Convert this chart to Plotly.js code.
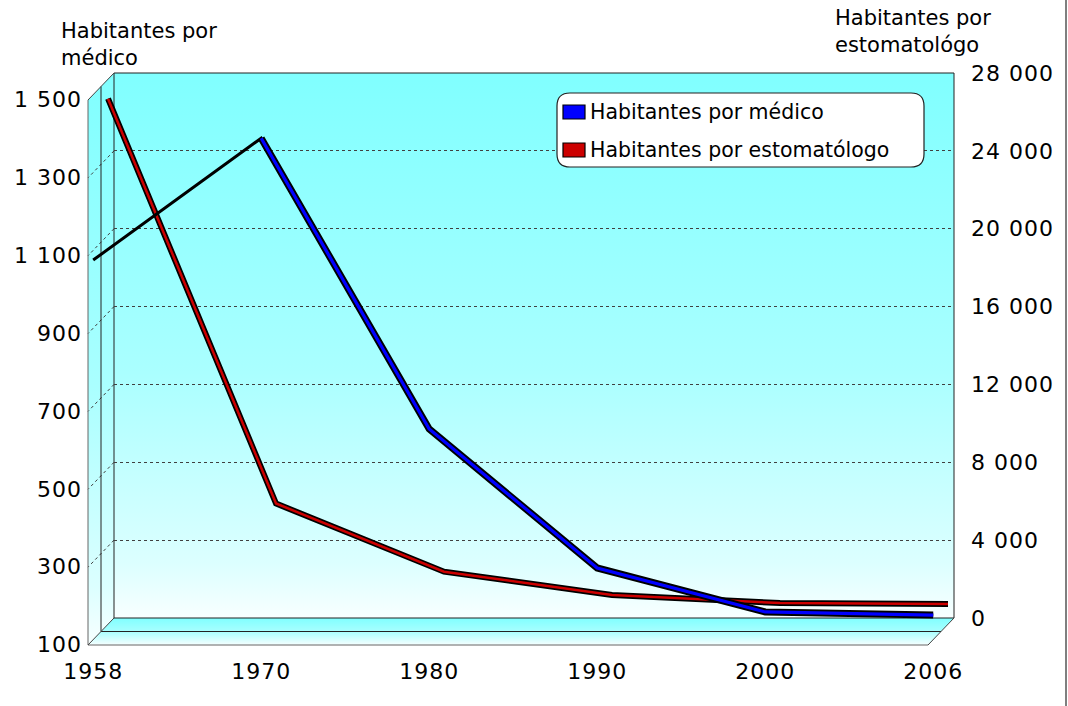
<!DOCTYPE html>
<html>
<head>
<meta charset="utf-8">
<script src="https://cdn.plot.ly/plotly-3.0.1.min.js"></script>
<style>
html,body{margin:0;padding:0;background:#fff;}
#chart{width:1068px;height:706px;}
.xtick text,.x3tick text,.ytick text,.y3tick text{letter-spacing:1px;}
</style>
</head>
<body>
<div id="chart"></div>
<script>
// ---------------- data ----------------
const years = ['1958', '1970', '1980', '1990', '2000', '2006'];
const habPorMedico = [1075, 1388, 641, 284, 171, 163];
const habPorEstomatologo = [27000, 6200, 2700, 1500, 1090, 1040];
const leftTicks = [100, 300, 500, 700, 900, 1100, 1300, 1500];
const rightTicks = [0, 4000, 8000, 12000, 16000, 20000, 24000, 28000];
const seriesNames = ['Habitantes por médico', 'Habitantes por estomatólogo'];
const leftTitle = 'Habitantes por<br>médico';
const rightTitle = 'Habitantes por<br>estomatológo';

// ---------------- geometry helpers (pixels -> paper) ----------------
const W = 1068, H = 706;
const fx = p => p / W;
const fy = p => 1 - p / H;
const BACK = {x0: 114, x1: 954, yTop: 73, yBot: 618};
const DX = -26, DY = 27;           // offset from back plane to front plane
function plane(t) {                 // t: 0 = front, 1 = back
  const s = 1 - t;
  return {x0: BACK.x0 + DX * s, x1: BACK.x1 + DX * s, yTop: BACK.yTop + DY * s, yBot: BACK.yBot + DY * s};
}
const FRONT = plane(0), MID = plane(0.5);
const P_MED = plane(0.2), P_EST = plane(0.77);
const PAD = 0.1;
function xDomain(p) { const u = (p.x1 - p.x0) / 5; return [fx(p.x0 - u * PAD), fx(p.x1 + u * PAD)]; }
function yDomain(p) { return [fy(p.yBot), fy(p.yTop)]; }

const FONT = 'DejaVu Sans, Verdana, sans-serif';

// ---------------- wall gradients (decoration image) ----------------
const poly = pts => pts.map(p => p[0] + ',' + p[1]).join(' ');
const svg = `<svg xmlns='http://www.w3.org/2000/svg' width='${W}' height='${H}' viewBox='0 0 ${W} ${H}' preserveAspectRatio='none'>
<defs>
<linearGradient id='g' x1='0' y1='0' x2='0' y2='1'>
<stop offset='0' stop-color='#80ffff'/><stop offset='0.55' stop-color='#aaffff'/><stop offset='0.9' stop-color='#dcffff'/><stop offset='1' stop-color='#f8ffff'/>
</linearGradient>
<linearGradient id='f' x1='0' y1='0' x2='0' y2='1'>
<stop offset='0' stop-color='#80ffff'/><stop offset='0.5' stop-color='#a8ffff'/><stop offset='1' stop-color='#f6ffff'/>
</linearGradient>
</defs>
<polygon points='${poly([[BACK.x0, BACK.yTop], [BACK.x1, BACK.yTop], [BACK.x1, BACK.yBot], [BACK.x0, BACK.yBot]])}' fill='url(#g)'/>
<polygon points='${poly([[FRONT.x0, FRONT.yTop], [BACK.x0, BACK.yTop], [BACK.x0, BACK.yBot], [FRONT.x0, FRONT.yBot]])}' fill='url(#g)'/>
<polygon points='${poly([[FRONT.x0, FRONT.yBot], [BACK.x0, BACK.yBot], [BACK.x1, BACK.yBot], [FRONT.x1, FRONT.yBot]])}' fill='url(#f)'/>
</svg>`;
const wallImage = {
  source: 'data:image/svg+xml;charset=utf-8,' + encodeURIComponent(svg),
  xref: 'paper', yref: 'paper', x: 0, y: 1, sizex: 1, sizey: 1,
  xanchor: 'left', yanchor: 'top', sizing: 'stretch', layer: 'below'
};

// ---------------- shapes ----------------
const shapes = [];
function seg(x0, y0, x1, y1, color, width, dash) {
  shapes.push({type: 'line', xref: 'paper', yref: 'paper', x0: fx(x0), y0: fy(y0), x1: fx(x1), y1: fy(y1),
    line: {color: color, width: width || 1, dash: dash || 'solid'}, layer: 'below'});
}
// diagonal dashed grid on the side wall
const rightRange = [rightTicks[0], rightTicks[rightTicks.length - 1]];
rightTicks.slice(1, -1).forEach(v => {
  const yb = BACK.yBot - (v - rightRange[0]) / (rightRange[1] - rightRange[0]) * (BACK.yBot - BACK.yTop);
  seg(BACK.x0, yb, FRONT.x0, yb + DY, '#404040', 1, '3px,3px');
});
// box edges
seg(BACK.x0, BACK.yTop, BACK.x1, BACK.yTop, '#222');
seg(BACK.x1, BACK.yTop, BACK.x1, BACK.yBot, '#222');
seg(BACK.x0, BACK.yTop, BACK.x0, BACK.yBot, '#222');
seg(BACK.x0, BACK.yBot, BACK.x1, BACK.yBot, '#222');
seg(MID.x0, MID.yTop, MID.x0, MID.yBot, '#222');
seg(MID.x0, MID.yBot, MID.x1, MID.yBot, '#222');
seg(FRONT.x0, FRONT.yTop, FRONT.x0, FRONT.yBot, '#666');
seg(FRONT.x0, FRONT.yBot, FRONT.x1, FRONT.yBot, '#666');
seg(FRONT.x0, FRONT.yTop, BACK.x0, BACK.yTop, '#444');
seg(FRONT.x0, FRONT.yBot, BACK.x0, BACK.yBot, '#444');
seg(FRONT.x1, FRONT.yBot, BACK.x1, BACK.yBot, '#444');
// right frame border
shapes.push({type: 'line', xref: 'paper', yref: 'paper', x0: fx(1066), x1: fx(1066), y0: 0, y1: 1,
  line: {color: '#555', width: 1.5}, layer: 'above'});

// legend box (rounded)
const LG = {x0: 557, x1: 924, y0: 93, y1: 167, r: 13};
const P = (x, y) => fx(x) + ',' + fy(y);
const lgPath = 'M' + P(LG.x0 + LG.r, LG.y0) + ' L' + P(LG.x1 - LG.r, LG.y0) +
  ' Q' + P(LG.x1, LG.y0) + ' ' + P(LG.x1, LG.y0 + LG.r) + ' L' + P(LG.x1, LG.y1 - LG.r) +
  ' Q' + P(LG.x1, LG.y1) + ' ' + P(LG.x1 - LG.r, LG.y1) + ' L' + P(LG.x0 + LG.r, LG.y1) +
  ' Q' + P(LG.x0, LG.y1) + ' ' + P(LG.x0, LG.y1 - LG.r) + ' L' + P(LG.x0, LG.y0 + LG.r) +
  ' Q' + P(LG.x0, LG.y0) + ' ' + P(LG.x0 + LG.r, LG.y0) + ' Z';
shapes.push({type: 'path', xref: 'paper', yref: 'paper', path: lgPath, fillcolor: '#ffffff',
  line: {color: '#222', width: 1.2}, layer: 'above'});
const seriesColors = ['#0000ff', '#cc0000'];
const lgRows = [112, 150];
lgRows.forEach((yc, i) => {
  shapes.push({type: 'rect', xref: 'paper', yref: 'paper', x0: fx(563), x1: fx(585), y0: fy(yc - 7), y1: fy(yc + 7),
    fillcolor: seriesColors[i], line: {color: '#000', width: 1.2}, layer: 'above'});
});

// ---------------- annotations ----------------
const annotations = [
  {xref: 'paper', yref: 'paper', x: fx(59), y: fy(17), xanchor: 'left', yanchor: 'top', align: 'left',
   text: leftTitle, showarrow: false, font: {family: FONT, size: 21, color: '#000'}},
  {xref: 'paper', yref: 'paper', x: fx(833), y: fy(4), xanchor: 'left', yanchor: 'top', align: 'left',
   text: rightTitle, showarrow: false, font: {family: FONT, size: 21, color: '#000'}}
];
lgRows.forEach((yc, i) => {
  annotations.push({xref: 'paper', yref: 'paper', x: fx(588), y: fy(yc), xanchor: 'left', yanchor: 'middle',
    text: seriesNames[i], showarrow: false, font: {family: FONT, size: 20.5, color: '#000'}});
});

// ---------------- traces ----------------
function faceY(vals) { // face of the ribbon is visible on descending segments
  return vals.map((v, i) => ((i > 0 && v <= vals[i - 1]) || (i < vals.length - 1 && vals[i + 1] <= v)) ? v : null);
}
const common = {type: 'scatter', mode: 'lines', hoverinfo: 'skip', showlegend: false, connectgaps: false};
const traces = [
  // back plane (carries the right axis and its grid)
  Object.assign({}, common, {x: [], y: [], xaxis: 'x', yaxis: 'y'}),
  // estomatólogo (deeper plane)
  Object.assign({}, common, {x: years, y: habPorEstomatologo, xaxis: 'x2', yaxis: 'y2', line: {color: '#000', width: 6}}),
  Object.assign({}, common, {x: years, y: faceY(habPorEstomatologo), xaxis: 'x2', yaxis: 'y2', name: seriesNames[1],
    line: {color: seriesColors[1], width: 2.5}}),
  // médico (front plane)
  Object.assign({}, common, {x: years, y: habPorMedico, xaxis: 'x3', yaxis: 'y3', line: {color: '#000', width: 3}}),
  Object.assign({}, common, {x: years, y: faceY(habPorMedico), xaxis: 'x3', yaxis: 'y3', line: {color: '#000', width: 7}}),
  Object.assign({}, common, {x: years, y: faceY(habPorMedico), xaxis: 'x3', yaxis: 'y3', name: seriesNames[0],
    line: {color: seriesColors[0], width: 3.2}})
];

// ---------------- layout ----------------
const hiddenX = {showgrid: false, zeroline: false, showline: false, showticklabels: false, ticks: '', fixedrange: true};
const tickFont = {family: FONT, size: 22, color: '#000'};
const layout = {
  width: W, height: H, autosize: false,
  margin: {l: 0, r: 0, t: 0, b: 0, pad: 0},
  paper_bgcolor: '#ffffff', plot_bgcolor: 'rgba(0,0,0,0)',
  separators: ', ',
  showlegend: false,
  // back plane: grid + right axis
  xaxis: Object.assign({}, hiddenX, {domain: [fx(BACK.x0), fx(BACK.x1)], range: [0, 1]}),
  yaxis: {domain: yDomain(BACK), range: rightRange, side: 'right', anchor: 'x',
    tickvals: rightTicks, tickformat: ',d', tickfont: tickFont, ticks: '',
    showgrid: true, gridcolor: '#404040', gridwidth: 1, griddash: '3px,3px',
    zeroline: false, showline: false, ticklabelstandoff: 16, fixedrange: true},
  // estomatólogo plane
  xaxis2: Object.assign({}, hiddenX, {domain: xDomain(P_EST), type: 'category', range: [-PAD, 5 + PAD], anchor: 'y2'}),
  yaxis2: {domain: yDomain(P_EST), range: rightRange, anchor: 'x2', showgrid: false, zeroline: false,
    showline: false, showticklabels: false, ticks: '', fixedrange: true},
  // médico plane
  xaxis3: {domain: xDomain(P_MED), type: 'category', range: [-PAD, 5 + PAD], anchor: 'y3',
    showgrid: false, zeroline: false, showline: false, ticks: '', tickfont: tickFont,
    ticklabelstandoff: 16, fixedrange: true},
  yaxis3: {domain: yDomain(P_MED), range: [leftTicks[0], leftTicks[leftTicks.length - 1]], anchor: 'free',
    position: fx(82), tickvals: leftTicks, tickformat: ',d', tickfont: tickFont, ticks: '',
    showgrid: false, zeroline: false, showline: false, ticklabelshift: 5, fixedrange: true},
  images: [wallImage],
  shapes: shapes,
  annotations: annotations
};

Plotly.newPlot('chart', traces, layout, {staticPlot: true, displayModeBar: false});
</script>
</body>
</html>
